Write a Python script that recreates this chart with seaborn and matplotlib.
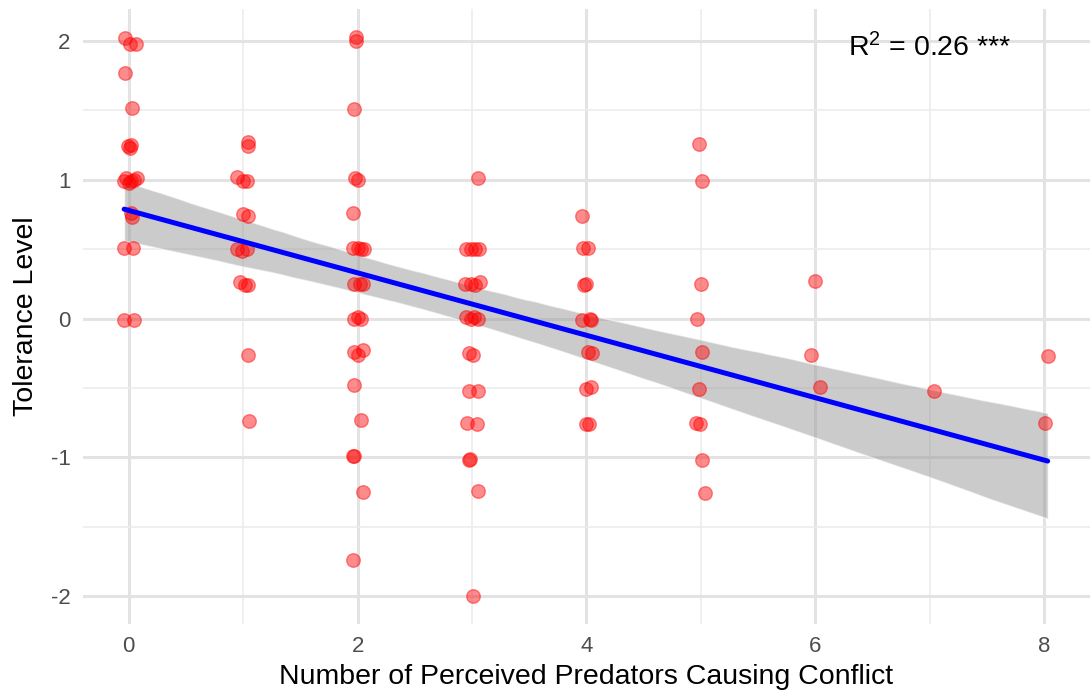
import numpy as np
import pandas as pd
import matplotlib
matplotlib.use("Agg")
import matplotlib.pyplot as plt
from matplotlib.ticker import MultipleLocator
import seaborn as sns

# Survey responses: number of predators a respondent perceives as causing
# conflict vs. their tolerance score (points are slightly jittered).
predators = [
    # 0 predators
    -0.035, 0.01, 0.06, -0.03, 0.03, -0.01, 0.02, 0.01,
    -0.04, -0.02, 0.02, 0.05, 0.07, 0.0, 0.02, 0.03,
    -0.04, 0.04, -0.04, 0.05,
    # 1 predator
    1.04, 1.04, 0.95, 1.0, 1.03, 1.0, 1.04, 0.95, 0.99, 1.03,
    0.97, 1.02, 1.04, 1.04, 1.05,
    # 2 predators
    1.99, 1.99, 1.97, 1.98, 2.0, 1.96, 1.96, 2.0, 2.03, 2.06,
    1.97, 2.02, 2.05, 1.97, 2.0, 2.03, 1.97, 2.05, 2.0, 1.97,
    2.03, 1.96, 1.97, 2.05, 1.96,
    # 3 predators
    3.05, 2.95, 2.99, 3.03, 3.06, 2.94, 2.99, 3.03, 3.07, 2.95,
    2.99, 3.02, 3.05, 2.97, 3.01, 2.97, 3.05, 2.96, 3.04, 2.97,
    2.98, 3.05, 3.01,
    # 4 predators
    3.96, 3.97, 4.01, 3.98, 4.0, 3.96, 4.03, 4.04, 4.01, 4.05,
    4.0, 4.04, 4.0, 4.02,
    # 5 predators
    4.98, 5.01, 5.0, 4.97, 5.01, 4.98, 4.96, 4.99, 5.01, 5.04,
    # 6-8 predators
    6.0, 5.96, 6.04, 7.04, 8.03, 8.01,
]
tolerance = [
    2.02, 1.98, 1.98, 1.77, 1.52, 1.24, 1.25, 1.23,
    0.99, 1.01, 0.99, 1.0, 1.01, 0.98, 0.76, 0.73,
    0.51, 0.51, -0.01, -0.01,
    1.27, 1.24, 1.02, 0.99, 0.99, 0.75, 0.74, 0.5, 0.49, 0.5,
    0.26, 0.24, 0.24, -0.26, -0.74,
    2.03, 2.0, 1.51, 1.01, 1.0, 0.76, 0.51, 0.51, 0.5, 0.5,
    0.25, 0.25, 0.25, 0.0, 0.01, 0.0, -0.24, -0.23, -0.26, -0.48,
    -0.73, -0.99, -0.99, -1.25, -1.74,
    1.01, 0.5, 0.5, 0.5, 0.5, 0.25, 0.25, 0.24, 0.26, 0.01,
    0.0, 0.01, 0.0, -0.25, -0.26, -0.52, -0.52, -0.75, -0.76, -1.02,
    -1.01, -1.24, -2.0,
    0.74, 0.51, 0.51, 0.24, 0.25, -0.01, 0.0, -0.01, -0.24, -0.25,
    -0.51, -0.49, -0.76, -0.76,
    1.26, 0.99, 0.25, 0.0, -0.24, -0.51, -0.75, -0.76, -1.02, -1.26,
    0.27, -0.26, -0.49, -0.52, -0.27, -0.75,
]
x_ticks = [0, 2, 4, 6, 8]
y_ticks = [-2, -1, 0, 1, 2]
r2_label = r"$\mathregular{R^2}$ = 0.26 ***"

df = pd.DataFrame({"predators": predators, "tolerance": tolerance})

sns.set_theme(style="whitegrid")
plt.rcParams["font.family"] = ["Liberation Sans", "DejaVu Sans"]
plt.rcParams["mathtext.fontset"] = "custom"
plt.rcParams["mathtext.rm"] = "Liberation Sans"

fig = plt.figure(figsize=(10.9, 6.92), dpi=100)
ax = fig.add_axes([0.0761, 0.0983, 0.9239, 0.8887])

sns.regplot(
    data=df, x="predators", y="tolerance", ax=ax,
    ci=95, n_boot=2000, seed=7, truncate=True,
    scatter_kws=dict(s=95, color="#ff0000", alpha=0.45, linewidths=1.0,
                     edgecolors="#ff0000", zorder=3),
    line_kws=dict(color="#0000ff", linewidth=3.6, zorder=4),
)
# make the confidence band a neutral grey
for coll in ax.collections:
    if coll is not ax.collections[0]:
        coll.set_facecolor("#999999")
        coll.set_alpha(0.5)
        coll.set_zorder(2)

ax.set_xlim(-0.4, 8.4)
ax.set_ylim(-2.2, 2.23)
ax.set_xticks(x_ticks)
ax.set_yticks(y_ticks)
ax.set_yticklabels([str(v) for v in y_ticks])
ax.xaxis.set_minor_locator(MultipleLocator(1))
ax.yaxis.set_minor_locator(MultipleLocator(0.5))

ax.grid(which="major", color="#e3e3e3", linewidth=2.2)
ax.grid(which="minor", color="#ececec", linewidth=1.2)
ax.set_axisbelow(True)
for sp in ax.spines.values():
    sp.set_visible(False)
ax.set_facecolor("white")
ax.tick_params(axis="both", which="both", length=0, labelsize=16,
               labelcolor="#4d4d4d", pad=9)

ax.set_xlabel("Number of Perceived Predators Causing Conflict",
              fontsize=20.5, color="black", labelpad=5)
ax.set_ylabel("Tolerance Level", fontsize=20.5, color="black", labelpad=8)

ax.text(7.0, 1.95, r2_label, fontsize=20.5, color="black",
        ha="center", va="center")

fig.savefig("out.png", dpi=100, facecolor="white")
